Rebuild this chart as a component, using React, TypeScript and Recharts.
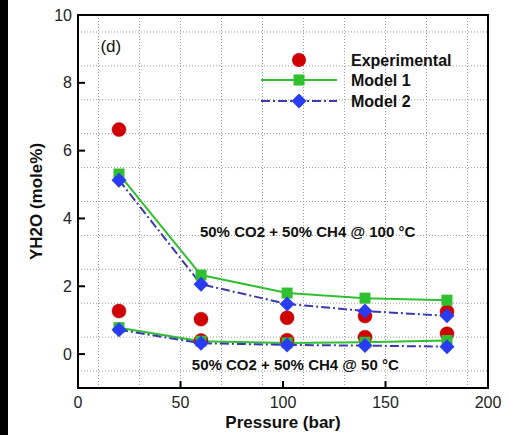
import * as React from 'react';
import {
  ComposedChart,
  Line,
  Scatter,
  XAxis,
  YAxis,
  CartesianGrid,
  ReferenceArea,
  ReferenceDot,
  Legend,
} from 'recharts';

// pressure (bar)
const pressure = [20, 60, 102, 140, 180];

// YH2O (mole%)
const exp100 = [6.62, 1.03, 1.07, 1.12, 1.25];
const exp50 = [1.27, 0.4, 0.41, 0.5, 0.6];
const model1At100 = [5.31, 2.33, 1.8, 1.65, 1.59];
const model1At50 = [0.78, 0.38, 0.33, 0.35, 0.4];
const model2At100 = [5.13, 2.06, 1.48, 1.27, 1.13];
const model2At50 = [0.72, 0.32, 0.27, 0.25, 0.22];

const xTicks = [0, 50, 100, 150, 200];
const yTicks = [0, 2, 4, 6, 8, 10];
const gridX = [10, 20, 30, 40, 50, 60, 70, 80, 90, 100, 110, 120, 130, 140, 150, 160, 170, 180, 190];
const gridY = [-0.5, 0, 0.5, 1, 1.5, 2, 2.5, 3, 3.5, 4, 4.5, 5, 5.5, 6, 6.5, 7, 7.5, 8, 8.5, 9, 9.5];

const FONT = "Arial, 'Liberation Sans', sans-serif";
const RED = '#d00000';
const GREEN = '#2fc02f';
const BLUE = '#2a3cf2';
const NAVY = '#3b3bb0';

const toPoints = (ys: number[]) => pressure.map((x, i) => ({ x, y: ys[i] }));

const expData = [...toPoints(exp100), ...toPoints(exp50)];

const RedDot = (p: any) => (
  <circle cx={p.cx} cy={p.cy} r={7} fill={RED} stroke="#b00000" strokeWidth={0.5} />
);

const SquareDot = (p: any) => (
  <rect key={`sq-${p.index}`} x={p.cx - 5.5} y={p.cy - 5.5} width={11} height={11} fill={GREEN} />
);

const DiamondDot = (p: any) => (
  <polygon
    key={`dm-${p.index}`}
    points={`${p.cx},${p.cy - 7.5} ${p.cx + 7.5},${p.cy} ${p.cx},${p.cy + 7.5} ${p.cx - 7.5},${p.cy}`}
    fill={BLUE}
  />
);

const YTick = (p: any) => {
  const ax = p.x + 6;
  return (
    <g>
      <line x1={ax} x2={ax + 7} y1={p.y} y2={p.y} stroke="#000" strokeWidth={2} />
      <text x={p.x} y={p.y} textAnchor="end" dominantBaseline="central" fontSize={16} fill="#222" fontFamily={FONT}>
        {p.payload.value}
      </text>
    </g>
  );
};

const XTick = (p: any) => {
  const ay = p.y - 6;
  return (
    <g>
      <line x1={p.x} x2={p.x} y1={ay} y2={ay - 7} stroke="#000" strokeWidth={2} />
      <text x={p.x} y={p.y + 8} textAnchor="middle" dominantBaseline="central" fontSize={16} fill="#222" fontFamily={FONT}>
        {p.payload.value}
      </text>
    </g>
  );
};

const LegendBox = () => (
  <svg width={220} height={70} style={{ display: 'block' }}>
    <circle cx={43} cy={12} r={7} fill={RED} />
    <line x1={5} x2={81} y1={32} y2={32} stroke={GREEN} strokeWidth={2} />
    <rect x={37.5} y={26.5} width={11} height={11} fill={GREEN} />
    <line x1={5} x2={81} y1={53} y2={53} stroke={NAVY} strokeWidth={2} strokeDasharray="9 3 2 3" />
    <polygon points="43,45.5 50.5,53 43,60.5 35.5,53" fill={BLUE} />
    <g fontFamily={FONT} fontWeight="bold" fontSize={16} fill="#111">
      <text x={95} y={12} dominantBaseline="central">Experimental</text>
      <text x={95} y={32} dominantBaseline="central">Model 1</text>
      <text x={95} y={53} dominantBaseline="central">Model 2</text>
    </g>
  </svg>
);

export default function App() {
  return (
    <div style={{ position: 'absolute', left: 0, top: 0, width: 508, height: 435, background: '#fff' }}>
      <div style={{ position: 'absolute', left: 0, top: 0, width: 8, height: 435, background: '#000' }} />
      <ComposedChart
        width={508}
        height={435}
        margin={{ top: 15, right: 20, bottom: 0, left: 0 }}
        style={{ fontFamily: FONT }}
      >
        <CartesianGrid
          stroke="#9a9a9a"
          strokeDasharray="1 2"
          horizontalValues={gridY}
          verticalValues={gridX}
        />
        <XAxis
          type="number"
          dataKey="x"
          domain={[0, 200]}
          ticks={xTicks}
          height={47}
          tickSize={0}
          tickMargin={6}
          tickLine={false}
          axisLine={{ stroke: '#000', strokeWidth: 2 }}
          tick={<XTick />}
          allowDataOverflow
          label={{
            value: 'Pressure (bar)',
            position: 'center',
            dy: 10,
            fontSize: 17,
            fontWeight: 'bold',
            fill: '#111',
            fontFamily: FONT,
          }}
        />
        <YAxis
          type="number"
          domain={[-1, 10]}
          ticks={yTicks}
          width={78}
          tickSize={0}
          tickMargin={6}
          tickLine={false}
          axisLine={{ stroke: '#000', strokeWidth: 2 }}
          tick={<YTick />}
          allowDataOverflow
          label={{
            value: 'YH2O (mole%)',
            angle: -90,
            position: 'center',
            dx: -3,
            fontSize: 17,
            fontWeight: 'bold',
            fill: '#111',
            fontFamily: FONT,
          }}
        />
        <ReferenceArea x1={0} x2={200} y1={-1} y2={10} fill="none" stroke="#000" strokeWidth={2} ifOverflow="visible" />

        <Scatter data={expData} dataKey="y" fill={RED} shape={RedDot} isAnimationActive={false} />

        <Line data={toPoints(model1At100)} dataKey="y" stroke={GREEN} strokeWidth={2} dot={SquareDot} activeDot={false} isAnimationActive={false} />
        <Line data={toPoints(model1At50)} dataKey="y" stroke={GREEN} strokeWidth={2} dot={SquareDot} activeDot={false} isAnimationActive={false} />
        <Line data={toPoints(model2At100)} dataKey="y" stroke={NAVY} strokeWidth={2} strokeDasharray="9 3 2 3" dot={DiamondDot} activeDot={false} isAnimationActive={false} />
        <Line data={toPoints(model2At50)} dataKey="y" stroke={NAVY} strokeWidth={2} strokeDasharray="9 3 2 3" dot={DiamondDot} activeDot={false} isAnimationActive={false} />

        <ReferenceDot x={16} y={9.1} r={0} fill="none" stroke="none"
          label={{ value: '(d)', position: 'center', fontSize: 17, fill: '#111', fontFamily: FONT }} />
        <ReferenceDot x={112} y={3.6} r={0} fill="none" stroke="none"
          label={{ value: '50% CO2 + 50% CH4 @ 100 °C', position: 'center', fontSize: 15, fontWeight: 'bold', fill: '#111', fontFamily: FONT }} />
        <ReferenceDot x={106} y={-0.3} r={0} fill="none" stroke="none"
          label={{ value: '50% CO2 + 50% CH4 @ 50 °C', position: 'center', fontSize: 15, fontWeight: 'bold', fill: '#111', fontFamily: FONT }} />

        <Legend
          layout="horizontal"
          verticalAlign="middle"
          align="center"
          content={<LegendBox />}
          wrapperStyle={{ top: 48, left: 256, width: 220, height: 70 }}
        />
      </ComposedChart>
    </div>
  );
}
